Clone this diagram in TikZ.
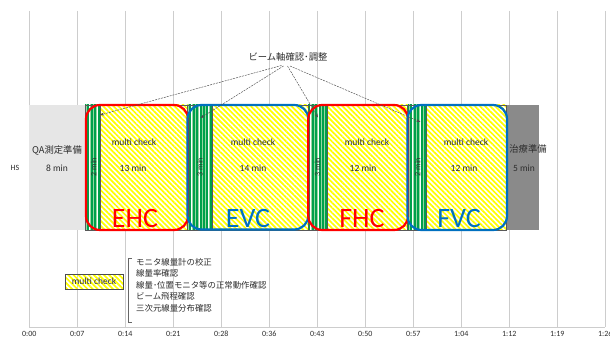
\documentclass[tikz,border=0pt]{standalone}
\usepackage{fontspec}
\setmainfont{Carlito}
\newfontfamily\jp{Noto Sans CJK JP}
\usetikzlibrary{patterns.meta,arrows.meta}
\definecolor{hatchyellow}{RGB}{255,255,0}
\definecolor{stripegreen}{RGB}{0,160,75}
\definecolor{stripelight}{RGB}{150,215,160}
\definecolor{boxred}{RGB}{255,0,0}
\definecolor{boxblue}{RGB}{0,112,192}
\definecolor{qagray}{RGB}{230,230,230}
\definecolor{darkbar}{RGB}{138,138,138}
\definecolor{gridgray}{RGB}{205,205,205}
\definecolor{txt}{RGB}{45,45,45}
\tikzset{
  gridline/.style={draw=gridgray, line width=0.9pt},
  yellowseg/.style={pattern={Lines[angle=-45,distance=3.6pt,line width=1.7pt]}, pattern color=hatchyellow},
  greenlight/.style={pattern={Lines[angle=90,distance=3.4pt,line width=0.9pt,xshift=1.7pt]}, pattern color=stripelight},
  greendark/.style={pattern={Lines[angle=90,distance=3.4pt,line width=1.9pt]}, pattern color=stripegreen},
  segborder/.style={draw=black!65, line width=0.5pt},
  redbox/.style={draw=boxred, line width=2.2pt, rounded corners=14pt},
  bluebox/.style={draw=boxblue, line width=2.2pt, rounded corners=14pt},
  bigred/.style={text=boxred, font=\fontsize{28}{30}\selectfont, anchor=base, inner sep=0pt},
  bigblue/.style={text=boxblue, font=\fontsize{28}{30}\selectfont, anchor=base, inner sep=0pt},
  smalltxt/.style={text=txt, font=\fontsize{9.5}{11}\selectfont, inner sep=0pt},
  rottxt/.style={text=txt, font=\fontsize{8}{9}\selectfont, inner sep=0pt, rotate=90},
  ticktxt/.style={text=txt, font=\fontsize{8}{9}\selectfont, inner sep=0pt},
  jptxt/.style={text=txt, font=\jp\fontsize{9.3}{11}\selectfont, inner sep=0pt},
  jplist/.style={text=txt, font=\jp\fontsize{8.4}{10}\selectfont, inner sep=0pt, anchor=west},
  callout/.style={draw=black!70, line width=0.45pt, dash pattern=on 2pt off 1pt, -{Stealth[length=4pt,width=3pt]}}
}
\begin{document}
\begin{tikzpicture}[x=1pt,y=-1pt]
\useasboundingbox[fill=white] (0,0) rectangle (610,339);
% grid
\foreach \i in {0,...,12} \draw[gridline] ({29.3+48*\i},11) -- ({29.3+48*\i},327);
\draw[gridline] (29.3,327) -- (605.3,327);
\foreach \i/\t in {0/0:00,1/0:07,2/0:14,3/0:21,4/0:28,5/0:36,6/0:43,7/0:50,8/0:57,9/1:04,10/1:12,11/1:19,12/1:26}
  \node[ticktxt] (tk\i) at ({29.3+48*\i},334) {\t};
% bars
\fill[qagray] (29.3,105) rectangle (85,230);
\fill[darkbar] (506,105) rectangle (539,230);
\foreach \a/\b in {85/100,187.5/212.5,308/327,407.5/426} {
  \fill[white] (\a,105) rectangle (\b,230);
  \fill[greenlight] (\a,105) rectangle (\b,230);
  \fill[greendark] (\a,105) rectangle (\b,230);
  \draw[segborder] (\a,105) rectangle (\b,230);
}
\foreach \a/\b in {100/187.5,212.5/308,327/407.5,426/506} {
  \fill[white] (\a,105) rectangle (\b,230);
  \fill[yellowseg] (\a,105) rectangle (\b,230);
  \draw[segborder] (\a,105) rectangle (\b,230);
}
% texts in bars
\node[ticktxt] (hs) at (15,168) {HS};
\node[jptxt] (qa) at (57,150) {QA測定準備};
\node[smalltxt] (qam) at (57,168) {8 min};
\node[jptxt] (ch) at (528,149) {治療準備};
\node[smalltxt] (chm) at (524,168) {5 min};
\node[smalltxt] (mc1) at (134,142) {multi check};
\node[smalltxt] (mm1) at (133,168.5) {13 min};
\node[smalltxt] (mc2) at (253,142) {multi check};
\node[smalltxt] (mm2) at (253,168.5) {14 min};
\node[smalltxt] (mc3) at (367,142) {multi check};
\node[smalltxt] (mm3) at (363,168.5) {12 min};
\node[smalltxt] (mc4) at (466,142) {multi check};
\node[smalltxt] (mm4) at (464,168.5) {12 min};
\node[rottxt] (g1) at (93.5,167) {2 min};
\node[rottxt] (g2) at (200,167) {3 min};
\node[rottxt] (g3) at (317.5,167) {3 min};
\node[rottxt] (g4) at (417.5,167) {2 min};
% rounded boxes
\draw[redbox] (86,105) rectangle (188,230);
\draw[bluebox] (187.5,105) rectangle (308.3,229.5);
\draw[redbox] (308.3,105) rectangle (408,230);
\draw[bluebox] (407.5,105) rectangle (507,230);
\node[bigred] (ehc) at (135,227) {EHC};
\node[bigblue] (evc) at (248,227) {EVC};
\node[bigred] (fhc) at (362,227) {FHC};
\node[bigblue] (fvc) at (459,227) {FVC};
% callouts
\node[jptxt] (beam) at (288,57) {ビーム軸確認･調整};
\coordinate (s1) at (281.5,65.5);
\coordinate (s2) at (283.5,66);
\coordinate (s3) at (287.5,66);
\coordinate (s4) at (290,66);
\coordinate (t1) at (100,115);
\coordinate (t2) at (200.5,118);
\coordinate (t3) at (318,117.5);
\coordinate (t4) at (420.5,122);
\draw[callout] (s1) -- (t1);
\draw[callout] (s2) -- (t2);
\draw[callout] (s3) -- (t3);
\draw[callout] (s4) -- (t4);
% legend
\node[draw=black!70, line width=0.45pt, yellowseg, minimum width=58pt, minimum height=15pt, inner sep=0pt, text=txt, font=\fontsize{9.5}{11}\selectfont] (leg) at (94,281.5) {multi check};
\coordinate (bt) at (131.5,258);
\coordinate (bb) at (131.5,322);
\draw[draw=black!60, line width=0.5pt] (bt) -- ++(-3.2,0) |- (bb);
\node[jplist] (l1) at (136,262) {モニタ線量計の校正};
\node[jplist] (l2) at (136,273.5) {線量率確認};
\node[jplist] (l3) at (136,285) {線量･位置モニタ等の正常動作確認};
\node[jplist] (l4) at (136,296.5) {ビーム飛程確認};
\node[jplist] (l5) at (136,308) {三次元線量分布確認};
\end{tikzpicture}
\end{document}
